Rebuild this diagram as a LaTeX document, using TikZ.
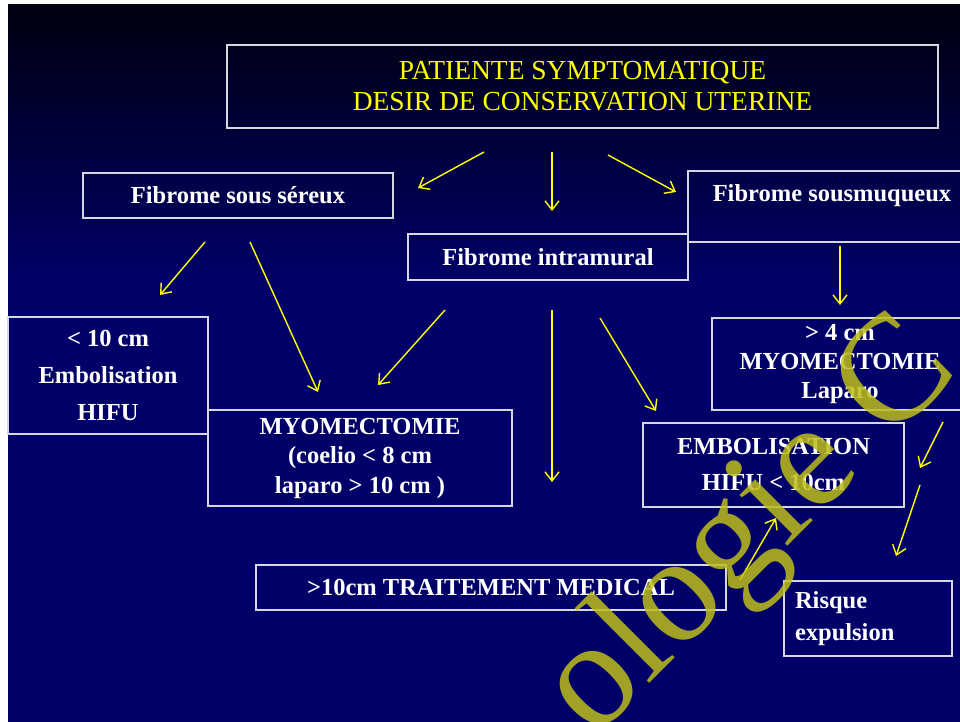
\documentclass[tikz,border=0pt]{standalone}
\usepackage{fontspec}
\setmainfont{Liberation Serif}
\usepackage{tikz}
\usetikzlibrary{arrows.meta}
\definecolor{clrFond}{RGB}{0,0,104}
\definecolor{clrHaut}{RGB}{0,0,16}
\definecolor{clrBorders}{RGB}{215,215,225}
\definecolor{clrFleche}{RGB}{255,255,0}
\definecolor{clrFiligrane}{RGB}{190,190,26}
\tikzstyle{box_style0}=[draw=clrBorders, line width=1.4pt, anchor=center, inner sep=0pt, align=center]
\tikzstyle{box_style}=[box_style0, text=white, font=\bfseries\fontsize{24.5}{30}\selectfont]
\tikzstyle{myarrow}=[-{Straight Barb[length=9pt,width=14pt]}, clrFleche, line width=1.4pt]

\begin{document}
\begin{tikzpicture}[x=1pt, y=-1pt]
		\useasboundingbox (0,0) rectangle (960,722) ;
		\clip (0,0) rectangle (960,722) ;

		% fond de la diapositive
		\fill[white] (0,0) rectangle (960,722) ;
		\shade[top color=clrHaut, bottom color=clrFond] (8,5) rectangle (960,280) ;
		\fill[clrFond] (8,279) rectangle (960,722) ;

		\node[box_style0, minimum width=711pt, minimum height=83pt, text=clrFleche, font=\fontsize{27.5}{31}\selectfont] (A) at (582.5,86.5) {PATIENTE SYMPTOMATIQUE\\DESIR DE CONSERVATION UTERINE} ;

		\node[box_style, minimum width=310pt, minimum height=45pt] (B) at (238,195.5) {Fibrome sous séreux} ;
		\node[box_style, minimum width=280pt, minimum height=46pt] (C) at (548,257) {Fibrome intramural} ;
		\node[box_style, minimum width=288pt, minimum height=71pt] (D) at (832,206.5) {Fibrome sousmuqueux\\[-2pt]~} ; % texte en haut de la boite

		\node[box_style, minimum width=200pt, minimum height=117pt, font=\bfseries\fontsize{24.5}{37}\selectfont] (E) at (108,375.5) {< 10 cm\\Embolisation\\HIFU} ;
		\node[box_style, minimum width=304pt, minimum height=96pt, font=\bfseries\fontsize{24.5}{29.5}\selectfont] (F) at (360,458) {MYOMECTOMIE\\(coelio < 8 cm\\laparo > 10 cm )} ;
		\node[box_style, minimum width=256pt, minimum height=92pt, font=\bfseries\fontsize{24.5}{29}\selectfont] (G) at (840,364) {> 4 cm\\MYOMECTOMIE\\Laparo} ;
		\node[box_style, minimum width=261pt, minimum height=84pt, font=\bfseries\fontsize{24.5}{36}\selectfont] (H) at (773.5,465) {EMBOLISATION\\HIFU < 10cm} ;
		\node[box_style, minimum width=470pt, minimum height=45pt] (I) at (491,587.5) {>10cm TRAITEMENT MEDICAL} ;
		\node[box_style, minimum width=168pt, minimum height=75pt, text width=146pt, align=left, font=\bfseries\fontsize{24.5}{32}\selectfont] (J) at (868,618.5) {Risque\\expulsion} ;

		% extremites libres des fleches
		\coordinate (A1) at (484,152) ;   \coordinate (B1) at (418,188) ;
		\coordinate (A2) at (552,152) ;   \coordinate (C1) at (552,211) ;
		\coordinate (A3) at (608,155) ;   \coordinate (D1) at (676,192) ;
		\coordinate (B2) at (205,242) ;   \coordinate (E1) at (160,295) ;
		\coordinate (B3) at (250,242) ;   \coordinate (F1) at (318,392) ;
		\coordinate (C2) at (445,310) ;   \coordinate (F2) at (378,385) ;
		\coordinate (C3) at (552,310) ;   \coordinate (I1) at (552,482) ;
		\coordinate (C4) at (600,318) ;   \coordinate (H1) at (656,411) ;
		\coordinate (D2) at (840,246) ;   \coordinate (G1) at (840,305) ;
		\coordinate (G2) at (943,422) ;   \coordinate (J1) at (920,468) ;
		\coordinate (G3) at (920,485) ;   \coordinate (J2) at (896,556) ;
		\coordinate (I2) at (740,580) ;   \coordinate (H2) at (776,518) ;

		\draw[myarrow] (A1) -- (B1) ;
		\draw[myarrow] (A2) -- (C1) ;
		\draw[myarrow] (A3) -- (D1) ;
		\draw[myarrow] (B2) -- (E1) ;
		\draw[myarrow] (B3) -- (F1) ;
		\draw[myarrow] (C2) -- (F2) ;
		\draw[myarrow] (C3) -- (I1) ;
		\draw[myarrow] (C4) -- (H1) ;
		\draw[myarrow] (D2) -- (G1) ;
		\draw[myarrow] (G2) -- (J1) ;
		\draw[myarrow] (G3) -- (J2) ;
		\draw[myarrow] (I2) -- (H2) ;

		% filigrane
		\node[text=clrFiligrane, opacity=0.85, rotate=45, inner sep=0pt, font=\fontsize{152}{152}\selectfont] (W) at (752,530) {ologie C} ;
	\end{tikzpicture}
\end{document}
